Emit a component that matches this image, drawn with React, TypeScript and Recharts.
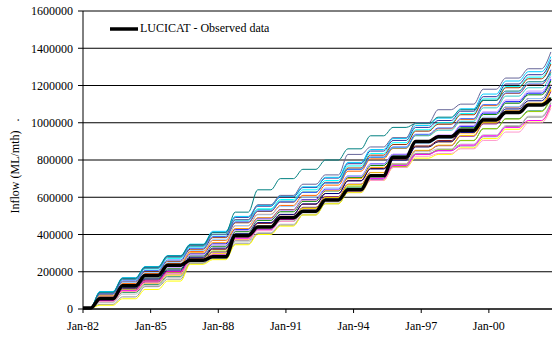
import { LineChart, Line, XAxis, YAxis, CartesianGrid, Legend } from "recharts";

// Cumulative inflow, thousands of ML, read at the end of each winter (Oct) 1982..2002
const seasons = [1982, 1983, 1984, 1985, 1986, 1987, 1988, 1989, 1990, 1991, 1992, 1993, 1994, 1995, 1996, 1997, 1998, 1999, 2000, 2001, 2002];
const startLevel = 5; // all traces start together in Jan-82
const riseStart = 4 / 12; // winter rise begins ~May
const riseEnd = 9 / 12; // ...and is over by ~Oct

const observed = [55, 125, 180, 235, 262, 280, 395, 440, 490, 525, 585, 640, 715, 815, 900, 925, 960, 1015, 1055, 1095, 1130];

// model runs
const runTeal = [90, 165, 225, 285, 345, 410, 520, 640, 700, 750, 800, 860, 930, 975, 995, 1030, 1070, 1120, 1170, 1220, 1270];
const runPurple = [85, 160, 220, 280, 340, 400, 480, 560, 610, 670, 720, 830, 870, 920, 1000, 1070, 1100, 1180, 1240, 1290, 1380];
const runPink = [40, 95, 140, 190, 255, 280, 370, 420, 470, 520, 580, 630, 690, 760, 820, 835, 860, 905, 950, 1000, 1078];
const runMagenta = [45, 100, 150, 200, 265, 290, 380, 425, 480, 530, 590, 645, 700, 770, 830, 850, 880, 930, 975, 1012, 1095];
const runYellow = [20, 55, 105, 150, 240, 265, 345, 400, 445, 505, 565, 625, 690, 760, 810, 830, 865, 915, 965, 1010, 1090];
const runGrey = [25, 65, 120, 160, 245, 275, 350, 405, 450, 505, 565, 625, 695, 775, 835, 850, 875, 925, 980, 1030, 1105];
const runSilver = [35, 80, 125, 170, 250, 270, 360, 410, 455, 510, 570, 630, 700, 780, 845, 860, 885, 935, 985, 1035, 1110];
const run01 = [92, 165, 224, 283, 344, 412, 492, 552, 602, 652, 703, 780, 848, 905, 975, 1012, 1062, 1140, 1208, 1258, 1338];
const run02 = [86, 158, 215, 272, 333, 398, 478, 538, 588, 640, 690, 768, 835, 893, 962, 1000, 1050, 1128, 1195, 1245, 1322];
const run03 = [78, 145, 200, 256, 321, 383, 463, 524, 574, 627, 680, 757, 826, 883, 955, 992, 1043, 1120, 1188, 1236, 1315];
const run04 = [72, 137, 190, 244, 309, 368, 447, 508, 556, 610, 665, 740, 806, 862, 932, 968, 1018, 1092, 1157, 1205, 1280];
const run05 = [88, 160, 218, 276, 336, 402, 478, 534, 580, 628, 676, 750, 814, 865, 930, 960, 1008, 1080, 1143, 1188, 1262];
const run06 = [66, 127, 178, 229, 296, 350, 428, 488, 534, 588, 643, 714, 779, 830, 900, 931, 981, 1052, 1113, 1159, 1234];
const run07 = [59, 118, 167, 216, 285, 337, 415, 476, 522, 578, 634, 705, 770, 822, 892, 922, 973, 1044, 1105, 1150, 1225];
const run08 = [53, 108, 155, 202, 273, 321, 399, 460, 506, 563, 620, 689, 754, 804, 875, 904, 955, 1025, 1085, 1130, 1205];
const run09 = [75, 142, 196, 250, 314, 372, 448, 506, 550, 600, 650, 716, 776, 822, 888, 915, 962, 1030, 1087, 1130, 1200];
const run10 = [46, 99, 144, 189, 261, 306, 383, 444, 488, 546, 604, 670, 733, 780, 851, 877, 928, 994, 1050, 1094, 1168];
const run11 = [69, 132, 184, 236, 302, 356, 432, 490, 532, 584, 636, 700, 760, 805, 872, 897, 945, 1010, 1064, 1105, 1175];
const run12 = [40, 89, 132, 175, 249, 290, 367, 428, 471, 530, 590, 654, 716, 760, 830, 854, 905, 968, 1022, 1064, 1138];
const run13 = [82, 151, 207, 263, 326, 389, 468, 527, 575, 626, 677, 750, 816, 870, 938, 972, 1022, 1097, 1160, 1208, 1285];
const run14 = [62, 122, 172, 222, 290, 343, 421, 482, 529, 584, 640, 712, 778, 831, 903, 935, 986, 1059, 1122, 1170, 1248];
const run15 = [56, 113, 161, 209, 278, 327, 404, 464, 508, 564, 620, 688, 752, 800, 870, 898, 948, 1016, 1074, 1118, 1192];
const run16 = [50, 103, 149, 196, 266, 311, 387, 446, 488, 542, 598, 660, 720, 765, 832, 855, 904, 968, 1020, 1060, 1132];
const run17 = [94, 168, 228, 287, 348, 417, 497, 556, 606, 656, 707, 787, 856, 915, 985, 1025, 1075, 1154, 1224, 1274, 1355];
const run18 = [43, 94, 138, 182, 254, 297, 374, 436, 480, 540, 600, 668, 732, 780, 852, 880, 932, 1000, 1058, 1104, 1180];

const runs = [
  { key: "r01", values: run01, color: "#333399" },
  { key: "r02", values: run02, color: "#00FFFF" },
  { key: "r03", values: run03, color: "#993300" },
  { key: "r04", values: run04, color: "#FF6600" },
  { key: "r05", values: run05, color: "#33CCCC" },
  { key: "r06", values: run06, color: "#0000FF" },
  { key: "r07", values: run07, color: "#008000" },
  { key: "r08", values: run08, color: "#800000" },
  { key: "r09", values: run09, color: "#99CCFF" },
  { key: "r10", values: run10, color: "#800080" },
  { key: "r11", values: run11, color: "#FF9900" },
  { key: "r12", values: run12, color: "#339966" },
  { key: "r13", values: run13, color: "#3366FF" },
  { key: "r14", values: run14, color: "#CC99FF" },
  { key: "r15", values: run15, color: "#000080" },
  { key: "r16", values: run16, color: "#99CC00" },
  { key: "r17", values: run17, color: "#00CCFF" },
  { key: "r18", values: run18, color: "#FFCC00" },
  { key: "silver", values: runSilver, color: "#C0C0C0" },
  { key: "grey", values: runGrey, color: "#969696" },
  { key: "yellow", values: runYellow, color: "#FFFF00" },
  { key: "magenta", values: runMagenta, color: "#FF00FF" },
  { key: "pink", values: runPink, color: "#FF99CC" },
  { key: "purple", values: runPurple, color: "#666699" },
  { key: "teal", values: runTeal, color: "#008080" },
];

const xTicks = [0, 3, 6, 9, 12, 15, 18];
const xTickLabels = ["Jan-82", "Jan-85", "Jan-88", "Jan-91", "Jan-94", "Jan-97", "Jan-00"];
const yTicks = [0, 200000, 400000, 600000, 800000, 1000000, 1200000, 1400000, 1600000];

const FONT = "'Liberation Serif', 'Times New Roman', serif";

function buildRows() {
  const rows: Record<string, number>[] = [{ t: 0 }];
  seasons.forEach((_, i) => {
    rows.push({ t: i + riseStart });
    rows.push({ t: i + riseEnd });
  });
  const all = [...runs, { key: "obs", values: observed }];
  all.forEach((s) => {
    rows[0][s.key] = startLevel * 1000;
    s.values.forEach((v, i) => {
      rows[1 + 2 * i][s.key] = (i === 0 ? startLevel : s.values[i - 1]) * 1000;
      rows[2 + 2 * i][s.key] = v * 1000;
    });
  });
  return rows;
}

const data = buildRows();

const yLabel = (props: any) => {
  const vb = props.viewBox || { x: 0, y: 11, width: 83, height: 298 };
  const cx = vb.x + 15;
  const cy = vb.y + vb.height / 2 + 12;
  return (
    <g fontFamily={FONT} fontSize={12} fill="#000">
      <text x={cx} y={cy} transform={`rotate(-90 ${cx} ${cy})`} textAnchor="middle" dominantBaseline="central">
        Inflow (ML/mth)
      </text>
      <text x={cx} y={cy - 52} transform={`rotate(-90 ${cx} ${cy - 52})`} textAnchor="middle" dominantBaseline="central">
        .
      </text>
    </g>
  );
};

const legendContent = () => (
  <div style={{ display: "flex", alignItems: "center", fontFamily: FONT, fontSize: 12, color: "#000", whiteSpace: "nowrap" }}>
    <svg width={28} height={8}>
      <line x1={0} y1={4} x2={28} y2={4} stroke="#000" strokeWidth={3.5} />
    </svg>
    <span style={{ marginLeft: 2 }}>LUCICAT - Observed data</span>
  </div>
);

export default function App() {
  return (
    <div style={{ position: "absolute", left: 0, top: 0, width: 552, height: 340, background: "#fff" }}>
      <LineChart width={552} height={340} data={data} margin={{ top: 11, right: 0, left: 0, bottom: 0 }}>
        <CartesianGrid vertical={false} stroke="#000" strokeWidth={1} />
        <XAxis
          type="number"
          dataKey="t"
          domain={[0, 20.8]}
          ticks={xTicks}
          tickFormatter={(v: number) => xTickLabels[xTicks.indexOf(v)] ?? ""}
          height={31}
          tickSize={4}
          tickMargin={8}
          axisLine={{ stroke: "#000" }}
          tickLine={{ stroke: "#000" }}
          tick={{ fill: "#000", fontSize: 12, fontFamily: FONT }}
          allowDataOverflow
        />
        <YAxis
          domain={[0, 1600000]}
          ticks={yTicks}
          width={83}
          tickSize={5}
          tickMargin={5}
          axisLine={{ stroke: "#000" }}
          tickLine={{ stroke: "#000" }}
          tick={{ fill: "#000", fontSize: 12, fontFamily: FONT }}
          label={yLabel}
        />
        <Legend
          layout="vertical"
          verticalAlign="middle"
          align="center"
          wrapperStyle={{ left: 110, top: 21, width: "auto" }}
          content={legendContent}
        />
        {runs.map((r) => (
          <Line
            key={r.key}
            type="monotone"
            dataKey={r.key}
            stroke={r.color}
            strokeWidth={1}
            dot={false}
            isAnimationActive={false}
            legendType="none"
          />
        ))}
        <Line
          type="monotone"
          dataKey="obs"
          stroke="#000"
          strokeWidth={3.5}
          dot={false}
          isAnimationActive={false}
        />
      </LineChart>
    </div>
  );
}
